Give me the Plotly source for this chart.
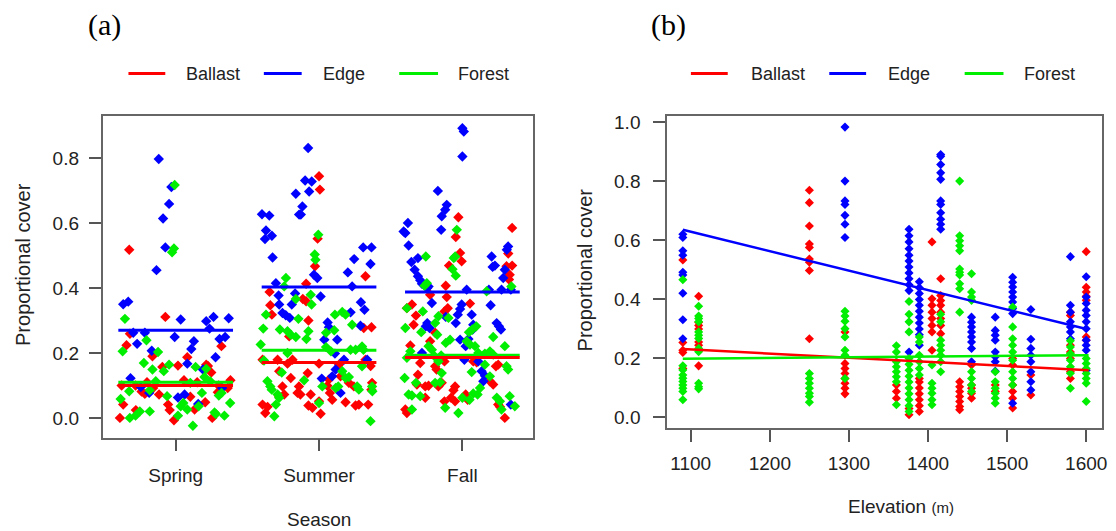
import plotly.graph_objects as go

# ---------------- Panel (a): cover by season (jittered positions: 1=Spring, 2=Summer, 3=Fall)
season_labels = ["Spring", "Summer", "Fall"]
season_pos = [1, 2, 3]

ballast_pos = [0.676,0.928,0.681,0.657,0.838,0.907,1.016,1.081,1.213,1.225,1.319,1.248,0.623,0.762,0.785,0.843,0.884,0.947,0.958,0.988,0.634,0.611,0.722,1.102,1.132,1.206,1.294,1.255,1.363,1.382,1.058,0.72,0.80,1.15,1.30,
               2.000,2.006,1.990,1.972,1.910,1.655,1.660,1.887,1.910,1.926,1.671,2.324,2.312,1.606,1.711,1.780,1.815,1.792,1.722,1.803,1.86,1.85,1.87,1.745,1.606,1.625,1.641,1.722,1.757,1.942,1.926,1.954,2.0,2.011,2.058,2.069,2.139,2.150,2.076,2.092,2.185,2.255,2.278,2.208,2.243,2.324,2.0,1.921,2.366,2.37,2.365,2.343,2.36,
               2.972,2.954,3.347,2.984,2.995,2.907,3.32,3.347,3.308,3.33,3.325,2.884,2.775,2.891,2.898,2.875,3.053,2.648,2.613,2.676,2.660,2.81,2.775,2.637,2.706,2.81,2.82,2.875,3.076,3.1,3.234,3.25,2.69,2.683,2.741,2.764,2.833,2.856,2.949,2.938,3.192,3.215,2.741,2.875,2.921,2.949,3.023,3.037,2.602,2.613,3.25,3.296,3.262]
ballast_cover = [0.518,0.311,0.259,0.224,0.190,0.157,0.161,0.187,0.164,0.160,0.221,0.140,0.100,0.081,0.074,0.092,0.072,0.041,0.024,-0.007,0.041,0.000,0.024,0.065,0.026,0.048,0.079,0.000,0.092,0.116,0.116,0.10,0.11,0.11,0.10,
                 0.744,0.703,0.552,0.467,0.413,0.388,0.347,0.366,0.359,0.300,0.318,0.436,0.277,0.179,0.179,0.167,0.179,0.251,0.144,0.123,0.097,0.077,0.072,0.097,0.041,0.015,0.034,0.065,0.072,0.072,0.038,0.031,0.051,0.013,0.099,0.118,0.164,0.128,0.077,0.056,0.048,0.038,0.041,0.108,0.097,0.179,0.167,0.138,0.279,0.108,0.087,0.041,0.16,
                 0.618,0.557,0.585,0.508,0.482,0.469,0.506,0.469,0.467,0.441,0.426,0.407,0.379,0.372,0.338,0.328,0.352,0.349,0.338,0.315,0.287,0.262,0.236,0.223,0.169,0.159,0.149,0.174,0.174,0.171,0.159,0.164,0.133,0.103,0.097,0.099,0.097,0.108,0.097,0.085,0.113,0.103,0.062,0.051,0.062,0.051,0.072,0.056,0.026,0.015,0.041,0.0,0.034]

edge_pos = [0.882,0.970,0.954,0.912,0.928,0.866,0.634,0.669,1.035,1.213,1.264,1.370,1.236,0.704,0.785,0.731,0.993,1.127,1.109,1.306,1.345,1.278,0.833,1.081,1.190,0.685,0.757,0.815,1.016,1.062,1.157,1.324,
            1.924,1.903,1.949,1.931,1.838,1.884,1.861,1.873,1.602,1.653,1.630,1.623,1.671,1.676,1.965,1.988,1.699,1.718,1.833,2.011,1.722,1.810,1.745,1.768,1.796,2.060,2.037,2.127,2.069,2.201,2.245,2.308,2.366,2.359,2.292,2.317,2.220,2.289,2.111,2.174,2.336,2.019,2.150,2.092,2.116,2.231,
            3.0,3.01,3.0,2.829,2.891,2.880,2.856,2.620,2.590,2.602,2.852,2.625,2.690,2.644,2.667,2.690,2.706,2.718,2.764,2.755,2.787,2.995,2.984,2.968,2.954,2.884,3.065,2.755,2.745,2.771,2.718,3.076,3.072,2.984,3.042,3.023,3.014,3.204,3.227,3.211,3.197,3.239,3.255,3.269,3.319,3.310,3.296,3.285,3.185,3.273,3.338,3.111,3.134,3.157,3.146,3.338,3.03]
edge_cover = [0.797,0.711,0.659,0.614,0.525,0.455,0.350,0.358,0.303,0.298,0.311,0.307,0.275,0.262,0.262,0.228,0.249,0.236,0.212,0.243,0.249,0.187,0.207,0.167,0.149,0.122,0.095,0.077,0.063,0.072,0.043,0.092,
              0.831,0.731,0.728,0.697,0.690,0.651,0.626,0.626,0.627,0.623,0.577,0.551,0.561,0.494,0.441,0.431,0.415,0.377,0.383,0.374,0.349,0.349,0.323,0.316,0.308,0.294,0.241,0.241,0.279,0.448,0.489,0.525,0.525,0.474,0.356,0.333,0.325,0.284,0.198,0.179,0.179,0.121,0.077,0.128,0.149,0.405,
              0.892,0.882,0.805,0.699,0.656,0.641,0.621,0.600,0.574,0.569,0.579,0.531,0.492,0.480,0.456,0.436,0.424,0.413,0.405,0.400,0.354,0.349,0.335,0.318,0.292,0.311,0.318,0.292,0.282,0.277,0.200,0.287,0.272,0.241,0.243,0.221,0.179,0.497,0.469,0.465,0.347,0.292,0.282,0.272,0.528,0.518,0.456,0.431,0.395,0.395,0.395,0.174,0.144,0.130,0.113,0.041,0.395]

forest_pos = [0.993,0.988,0.975,0.646,0.796,0.630,0.877,0.778,0.838,0.917,0.954,1.139,1.213,1.201,0.676,0.616,0.819,0.861,0.940,1.035,1.053,1.081,1.160,1.183,1.301,1.320,1.380,1.340,1.271,1.280,1.120,1.016,0.75,0.72,0.68,0.819,1.102,1.241,
              1.995,1.97,1.975,1.769,1.757,1.942,1.948,1.838,1.630,1.856,1.611,1.727,1.780,1.803,1.838,1.926,1.912,2.111,2.162,2.185,2.049,2.106,2.231,1.593,1.616,1.780,2.049,2.083,2.22,2.255,1.74,1.896,1.64,1.66,1.67,1.711,1.722,1.688,1.699,2.0,2.023,2.116,2.134,2.162,2.185,2.208,2.266,2.278,2.30,2.31,2.30,2.359,2.37,2.372,
              2.961,2.95,2.94,2.954,2.931,2.745,2.736,2.752,3.342,3.169,2.613,2.724,2.833,2.81,2.903,2.602,2.713,2.824,2.914,2.884,3.046,3.069,3.097,3.215,3.296,2.637,2.613,2.764,2.787,2.806,2.852,3.03,3.053,3.088,3.111,3.157,3.192,3.215,2.833,3.157,3.308,3.319,2.597,2.856,3.065,2.625,2.648,2.706,2.676,2.81,2.845,3.123,3.192,3.106,3.076,2.88,2.972,3.0,3.05,3.24,3.262,3.273,3.33,3.366,2.648]
forest_cover = [0.717,0.522,0.510,0.305,0.239,0.205,0.203,0.169,0.149,0.144,0.164,0.157,0.151,0.126,0.082,0.058,0.085,0.113,0.067,0.036,0.046,0.026,0.036,0.077,0.069,0.077,0.046,0.007,0.017,0.012,-0.024,0.007,0.02,0.007,0.0,0.02,0.108,0.113,
                0.564,0.503,0.487,0.431,0.405,0.379,0.349,0.366,0.318,0.305,0.275,0.272,0.267,0.256,0.249,0.267,0.243,0.318,0.326,0.318,0.262,0.270,0.287,0.226,0.177,0.200,0.218,0.205,0.21,0.21,0.14,0.116,0.113,0.097,0.087,0.072,0.062,0.005,0.041,0.046,0.097,0.092,0.097,0.144,0.123,0.126,0.097,0.087,0.22,0.21,0.159,-0.01,0.097,0.082,
                0.579,0.497,0.492,0.438,0.458,0.497,0.407,0.415,0.405,0.390,0.338,0.328,0.313,0.292,0.308,0.277,0.264,0.256,0.241,0.231,0.264,0.272,0.282,0.249,0.221,0.205,0.185,0.221,0.21,0.19,0.192,0.236,0.226,0.221,0.2,0.198,0.205,0.195,0.174,0.164,0.159,0.149,0.123,0.138,0.141,0.072,0.069,0.067,0.108,0.108,0.11,0.092,0.128,0.072,0.075,0.031,0.015,0.062,0.056,0.062,0.051,0.026,0.067,0.036,0.026]

# season means (horizontal lines)
ballast_season_mean = [0.100, 0.171, 0.186]
edge_season_mean = [0.270, 0.403, 0.388]
forest_season_mean = [0.110, 0.208, 0.193]

# ---------------- Panel (b): cover vs elevation
elev_sites = [1090, 1110, 1250, 1295, 1360, 1376, 1389, 1405, 1416, 1440, 1455, 1485, 1507, 1530, 1580, 1600]
ballast_by_site = [
    [0.534,0.254,0.228,0.22,0.166],
    [0.411,0.323,0.312,0.30,0.256,0.245,0.175],
    [0.77,0.728,0.649,0.588,0.576,0.537,0.526,0.498,0.267],
    [0.29,0.183,0.166,0.149,0.132,0.116,0.099,0.08],
    [0.11,0.088,0.065],
    [0.009,0.03],
    [0.132,0.12,0.10,0.08,0.06,0.04,0.02],
    [0.595,0.402,0.38,0.357,0.335,0.312,0.29,0.228],
    [0.47,0.413,0.396,0.38,0.357,0.335,0.312,0.284],
    [0.121,0.104,0.088,0.071,0.054,0.037,0.026],
    [0.178,0.11,0.099,0.082,0.065],
    [0.11,0.088],
    [0.2,0.178,0.11,0.088,0.065,0.032],
    [0.144,0.076],
    [0.357,0.346,0.245,0.222,0.2,0.155,0.132],
    [0.562,0.441,0.425,0.411,0.397,0.273,0.262],
]
edge_by_site = [
    [0.621,0.61,0.565,0.55,0.492,0.483,0.421,0.331,0.267],
    [],
    [],
    [0.984,0.801,0.734,0.722,0.685,0.655,0.61],
    [],
    [0.638,0.616,0.595,0.572,0.55,0.53,0.51,0.49,0.47,0.45,0.43,0.222],
    [0.46,0.44,0.42,0.40,0.38,0.36,0.34,0.32,0.30,0.28,0.245],
    [],
    [0.891,0.885,0.857,0.829,0.807,0.734,0.722,0.694,0.672,0.655,0.638],
    [],
    [0.34,0.323,0.307,0.29,0.273,0.256,0.234,0.189],
    [0.34,0.295,0.279,0.262,0.222,0.206,0.189,0.157],
    [0.475,0.458,0.442,0.425,0.408,0.391,0.369,0.352,0.048],
    [0.366,0.265,0.234,0.211,0.189,0.155,0.121,0.093],
    [0.545,0.38,0.357,0.324,0.307,0.29,0.267],
    [0.477,0.408,0.386,0.363,0.346,0.324,0.301,0.262,0.245,0.228,0.16],
]
forest_by_site = [
    [0.467,0.175,0.161,0.144,0.133,0.122,0.11,0.099,0.088,0.06],
    [0.377,0.344,0.335,0.324,0.29,0.279,0.268,0.234,0.223,0.116,0.104,0.097],
    [0.149,0.132,0.116,0.099,0.082,0.071,0.052],
    [0.36,0.344,0.326,0.301,0.273,0.228,0.211,0.132],
    [0.243,0.222,0.189,0.172,0.155,0.138,0.121,0.043],
    [0.393,0.35,0.324,0.29,0.2,0.18,0.16,0.14,0.12,0.10,0.08,0.06,0.04,0.02],
    [0.273,0.256,0.211,0.189,0.166,0.144],
    [0.178,0.116,0.099,0.082,0.06,0.043],
    [0.35,0.324,0.262,0.245,0.228,0.211,0.189,0.155],
    [0.801,0.616,0.599,0.582,0.565,0.503,0.492,0.483,0.453,0.436,0.357],
    [0.487,0.425,0.408,0.397,0.155,0.132,0.11,0.088],
    [0.155,0.121,0.099,0.082,0.065,0.048],
    [0.374,0.307,0.267,0.245,0.222,0.194,0.155,0.132,0.11],
    [],
    [0.26,0.239,0.217,0.194,0.172,0.15,0.099],
    [0.2,0.183,0.166,0.149,0.132,0.116,0.054],
]

# fitted regression lines (endpoints)
fit_elev = [1090, 1603]
ballast_fit = [0.232, 0.160]
edge_fit = [0.636, 0.298]
forest_fit = [0.199, 0.211]

groups = ["Ballast", "Edge", "Forest"]
colors = {"Ballast": "#FF0000", "Edge": "#0000FF", "Forest": "#00EE00"}

# the page body has an 8px margin: figure is placed at (8, 8)
OFF = 8
W, H = 1116 - OFF, 531 - OFF
def px(x):
    return (x - OFF) / W
def py(y):
    return 1 - (y - OFF) / H

fig = go.Figure()

panel_a = {"Ballast": (ballast_pos, ballast_cover, ballast_season_mean),
           "Edge": (edge_pos, edge_cover, edge_season_mean),
           "Forest": (forest_pos, forest_cover, forest_season_mean)}
for g in groups:
    xs, ys, _ = panel_a[g]
    fig.add_trace(go.Scatter(x=xs, y=ys, mode="markers", xaxis="x", yaxis="y",
                             marker=dict(symbol="diamond", size=8, color=colors[g], line=dict(width=0)),
                             showlegend=False, hoverinfo="skip"))
for g in ["Edge", "Forest", "Ballast"]:
    _, _, means = panel_a[g]
    for pos, m in zip(season_pos, means):
        fig.add_trace(go.Scatter(x=[pos - 0.4, pos + 0.4], y=[m, m], mode="lines", xaxis="x", yaxis="y",
                                 line=dict(color=colors[g], width=3), showlegend=False, hoverinfo="skip"))

panel_b = {"Ballast": ballast_by_site, "Edge": edge_by_site, "Forest": forest_by_site}
fits = {"Ballast": ballast_fit, "Edge": edge_fit, "Forest": forest_fit}
for g in groups:
    xs, ys = [], []
    for e, vals in zip(elev_sites, panel_b[g]):
        xs += [e] * len(vals)
        ys += vals
    fig.add_trace(go.Scatter(x=xs, y=ys, mode="markers", xaxis="x2", yaxis="y2",
                             marker=dict(symbol="diamond", size=7, color=colors[g], line=dict(width=0)),
                             showlegend=False, hoverinfo="skip"))
for g in ["Edge", "Ballast", "Forest"]:
    fig.add_trace(go.Scatter(x=fit_elev, y=fits[g], mode="lines", xaxis="x2", yaxis="y2",
                             line=dict(color=colors[g], width=2.5), showlegend=False, hoverinfo="skip"))

font_family = "Liberation Sans, Arial, sans-serif"
tcol = "#222222"
tick_font = dict(family=font_family, size=19, color=tcol)
axis_common = dict(showline=True, mirror=True, linecolor="#666666", linewidth=1.5,
                   ticks="outside", ticklen=12, tickwidth=1.5, tickcolor="#555555",
                   showgrid=False, zeroline=False, tickfont=tick_font)

fig.update_layout(
    width=W, height=H, margin=dict(l=0, r=0, t=0, b=0),
    paper_bgcolor="white", plot_bgcolor="white",
    xaxis=dict(domain=[px(103), px(535)], range=[0.49, 3.49], tickvals=season_pos, ticktext=season_labels,
               ticklabelstandoff=8, **axis_common),
    yaxis=dict(domain=[py(437), py(113)], range=[-0.061, 0.929], tickvals=[0, 0.2, 0.4, 0.6, 0.8], tickformat=".1f",
               ticklabelstandoff=6, **axis_common),
    xaxis2=dict(domain=[px(670), px(1107)], range=[1070, 1620], tickvals=[1100, 1200, 1300, 1400, 1500, 1600],
                anchor="y2", ticklabelstandoff=6, **axis_common),
    yaxis2=dict(domain=[py(427), py(113)], range=[-0.035, 1.021], tickvals=[0, 0.2, 0.4, 0.6, 0.8, 1.0], tickformat=".1f",
                anchor="x2", ticklabelstandoff=9, **axis_common),
)

ann = []
def text(x, y, s, size=19, angle=0, xanchor="center", family=font_family, color=tcol):
    ann.append(dict(x=px(x), y=py(y), xref="paper", yref="paper", text=s, showarrow=False,
                    xanchor=xanchor, yanchor="middle", textangle=angle,
                    font=dict(family=family, size=size, color=color)))

text(105, 21, "(a)", size=30, family="Liberation Serif, Times New Roman, serif", color="black")
text(671, 21, "(b)", size=30, family="Liberation Serif, Times New Roman, serif", color="black")
text(23, 262, "Proportional cover", size=20, angle=-90)
text(588, 268, "Proportional cover", size=20, angle=-90)
text(320, 519, "Season", size=19)
text(905, 506, "Elevation <span style='font-size:15px'>(m)</span>", size=19)

shapes = []
legend_a = [(129, 166, 185), (265, 303, 322), (401, 440, 458)]
legend_b = [(694, 731, 752), (833, 870, 890), (969, 1008, 1027)]
for spec in (legend_a, legend_b):
    for g, (x0, x1, tx) in zip(groups, spec):
        shapes.append(dict(type="line", xref="paper", yref="paper", x0=px(x0), x1=px(x1), y0=py(70), y1=py(70),
                           line=dict(color=colors[g], width=3)))
        text(tx, 70, g, size=18, xanchor="left")

fig.update_layout(annotations=ann, shapes=shapes)
fig.write_html("out.html")
